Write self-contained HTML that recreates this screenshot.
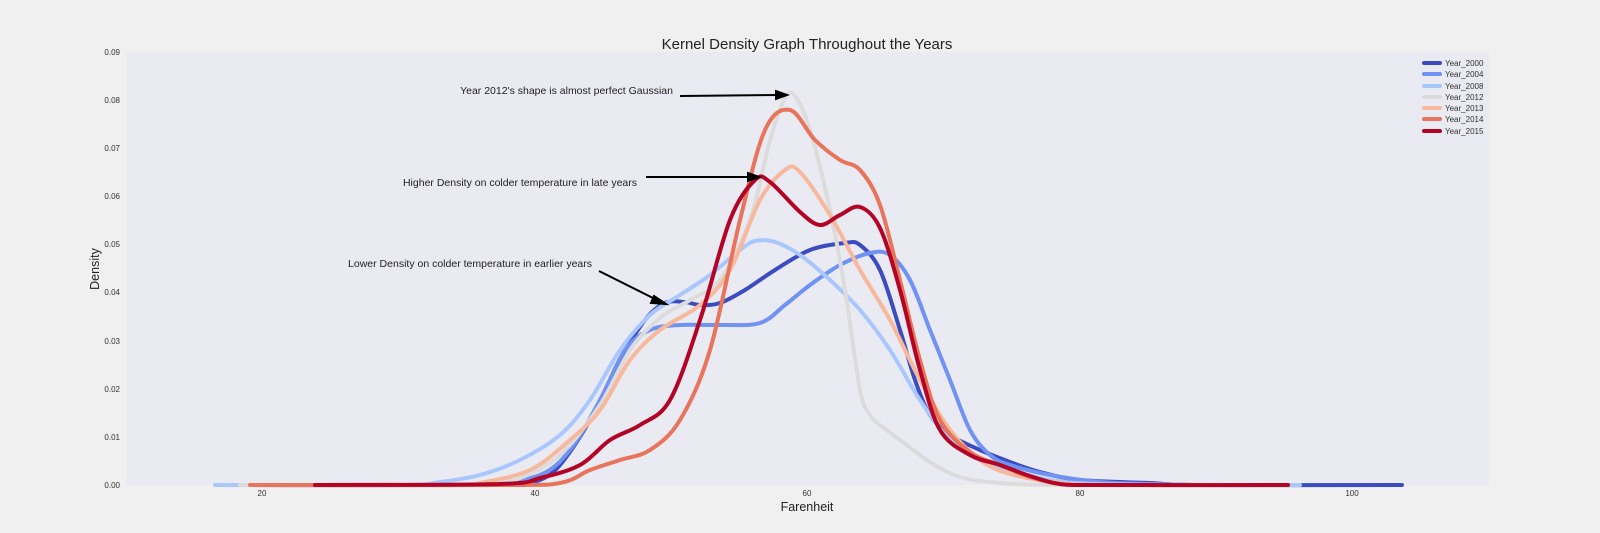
<!DOCTYPE html>
<html><head><meta charset="utf-8"><style>
body{margin:0;background:#f0f0f0;}
svg{display:block;font-family:"Liberation Sans",sans-serif;}
</style></head><body>
<svg id="s" width="1600" height="533" xmlns="http://www.w3.org/2000/svg">
<rect width="1600" height="533" fill="#f0f0f0"/>
<rect x="126" y="52" width="1363" height="433" fill="#eaeaf2"/>
<text x="807" y="49" font-size="15" text-anchor="middle" fill="#222">Kernel Density Graph Throughout the Years</text>
<text x="807" y="511" font-size="12.5" text-anchor="middle" fill="#222">Farenheit</text>
<text x="99" y="269" font-size="12.5" text-anchor="middle" fill="#222" transform="rotate(-90 99 269)">Density</text>
<g font-size="8" fill="#333" text-anchor="end">
<text x="120" y="55">0.09</text><text x="120" y="103">0.08</text><text x="120" y="151">0.07</text>
<text x="120" y="199">0.06</text><text x="120" y="247">0.05</text><text x="120" y="295">0.04</text>
<text x="120" y="344">0.03</text><text x="120" y="392">0.02</text><text x="120" y="440">0.01</text>
<text x="120" y="488">0.00</text>
</g>
<g font-size="8" fill="#333" text-anchor="middle">
<text x="262" y="496">20</text><text x="535" y="496">40</text><text x="807" y="496">60</text>
<text x="1080" y="496">80</text><text x="1352" y="496">100</text>
</g>
<g id="curves" fill="none" stroke-width="4" stroke-linecap="round" stroke-linejoin="round"></g>
<g font-size="10.5" fill="#222" text-anchor="end">
<text x="673" y="94">Year 2012's shape is almost perfect Gaussian</text>
<text x="637" y="186">Higher Density on colder temperature in late years</text>
<text x="592" y="267">Lower Density on colder temperature in earlier years</text>
</g>
<g stroke="#000" stroke-width="2" fill="#000">
<line x1="680" y1="96" x2="778" y2="95"/><polygon points="787,95 776,91 776,99"/>
<line x1="646" y1="177" x2="750" y2="177"/><polygon points="759,177 748,173 748,181"/>
<line x1="599" y1="271" x2="657" y2="300"/><polygon points="666,304 654,296 651,303"/>
</g>
<g font-size="8" fill="#333">
<line x1="1424" y1="63" x2="1440" y2="63" stroke="#3b4cc0" stroke-width="4" stroke-linecap="round"/><text x="1445" y="66">Year_2000</text>
<line x1="1424" y1="74" x2="1440" y2="74" stroke="#6f92f3" stroke-width="4" stroke-linecap="round"/><text x="1445" y="77">Year_2004</text>
<line x1="1424" y1="86" x2="1440" y2="86" stroke="#aac7fd" stroke-width="4" stroke-linecap="round"/><text x="1445" y="89">Year_2008</text>
<line x1="1424" y1="97" x2="1440" y2="97" stroke="#dddcdc" stroke-width="4" stroke-linecap="round"/><text x="1445" y="100">Year_2012</text>
<line x1="1424" y1="108" x2="1440" y2="108" stroke="#f7b89c" stroke-width="4" stroke-linecap="round"/><text x="1445" y="111">Year_2013</text>
<line x1="1424" y1="119" x2="1440" y2="119" stroke="#e7745b" stroke-width="4" stroke-linecap="round"/><text x="1445" y="122">Year_2014</text>
<line x1="1424" y1="131" x2="1440" y2="131" stroke="#b40426" stroke-width="4" stroke-linecap="round"/><text x="1445" y="134">Year_2015</text>
</g>
</svg>
<script>
var C=[
["#3b4cc0",[[240,485],[500,485],[520,484],[540,480],[560,465],[590,420],[620,360],[645,320],[665,303],[685,302],[700,305],[720,303],[745,290],[775,270],[810,250],[845,243],[860,245],[880,270],[900,330],[915,380],[930,415],[950,435],[980,450],[1010,462],[1040,472],[1080,480],[1150,483],[1200,485],[1402,485]]],
["#6f92f3",[[230,485],[470,485],[490,484],[540,475],[570,450],[600,400],[625,350],[650,330],[680,325],[720,325],[760,323],[785,305],[810,285],[840,265],[870,253],[890,255],[910,280],[930,330],[950,380],[970,430],[990,455],[1010,465],[1050,475],[1100,482],[1150,484],[1200,485],[1300,485]]],
["#aac7fd",[[215,485],[400,485],[440,482],[480,475],[520,460],[560,435],[590,400],[620,350],[650,315],[680,295],[710,275],[740,250],[755,241],[775,242],[800,255],[830,280],[860,310],[890,350],[920,400],[950,440],[980,460],[1010,470],[1050,480],[1100,484],[1200,485],[1300,485]]],
["#dddcdc",[[240,485],[460,485],[490,483],[520,478],[560,455],[600,405],[630,350],[660,318],[690,300],[720,280],[750,220],[770,140],[785,98],[795,96],[810,130],[830,210],[845,290],[860,390],[870,415],[880,425],[900,440],[930,462],[960,477],[1000,483],[1050,485],[1150,485]]],
["#f7b89c",[[250,485],[460,485],[480,483],[530,470],[570,440],[600,410],[630,360],[660,330],[700,305],[730,270],[760,200],[785,170],[800,172],[830,215],[860,270],[890,320],[920,380],[950,430],[980,460],[1010,474],[1060,483],[1100,485],[1200,485]]],
["#e7745b",[[250,485],[500,485],[560,483],[590,470],[620,460],[650,450],[680,420],[710,350],[740,220],[765,130],[790,110],[815,140],[840,160],[860,170],[880,205],[900,280],[920,360],[940,420],[970,452],[1000,465],[1030,477],[1060,484],[1100,485],[1200,485]]],
["#b40426",[[315,485],[500,484],[540,478],[580,465],[610,440],[640,425],[670,400],[700,320],[730,220],[755,180],[770,182],[800,212],[820,225],[840,215],[860,207],[880,228],[900,290],[920,370],[940,430],[970,455],[1000,465],[1030,476],[1060,484],[1100,485],[1288,485]]]
];
function cr(p){var d="M"+p[0][0]+","+p[0][1];for(var i=0;i<p.length-1;i++){var a=p[i-1]||p[i],b=p[i],c=p[i+1],e=p[i+2]||c;
d+=" C"+(b[0]+(c[0]-a[0])/6)+","+(b[1]+(c[1]-a[1])/6)+" "+(c[0]-(e[0]-b[0])/6)+","+(c[1]-(e[1]-b[1])/6)+" "+c[0]+","+c[1];}return d;}
var g=document.getElementById("curves");
C.forEach(function(c){var p=document.createElementNS("http://www.w3.org/2000/svg","path");p.setAttribute("d",cr(c[1]));p.setAttribute("stroke",c[0]);g.appendChild(p);});
</script>
</body></html>
